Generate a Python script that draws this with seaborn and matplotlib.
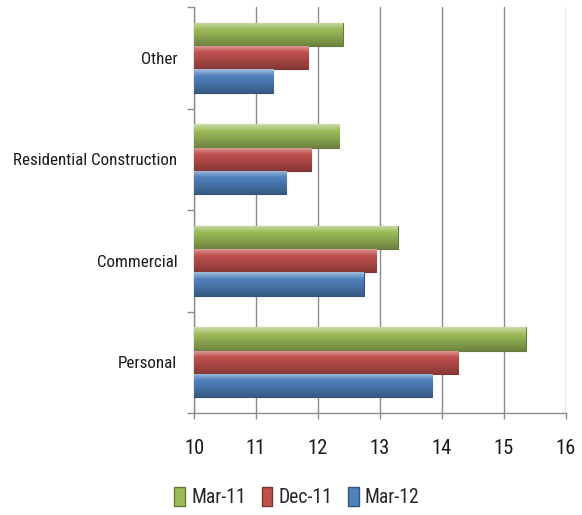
import numpy as np
import pandas as pd
import matplotlib
matplotlib.use("Agg")
import matplotlib.pyplot as plt
from matplotlib import font_manager as fm
from matplotlib.colors import to_rgb
from matplotlib.patches import Patch
import seaborn as sns

categories = ["Other", "Residential Construction", "Commercial", "Personal"]
series = ["Mar-11", "Dec-11", "Mar-12"]
mar11 = [12.40, 12.34, 13.29, 15.35]
dec11 = [11.84, 11.89, 12.94, 14.26]
mar12 = [11.28, 11.49, 12.74, 13.84]
x_ticks = [10, 11, 12, 13, 14, 15, 16]

colors = {"Mar-11": "#9BBB59", "Dec-11": "#C0504D", "Mar-12": "#4F81BD"}

df = pd.DataFrame({
    "category": categories * 3,
    "series": [s for s in series for _ in categories],
    "value": mar11 + dec11 + mar12,
})


def pick_font():
    """Prefer a narrow sans face; fall back to Lato."""
    tries = [("Liberation Sans Narrow", "normal"), ("Roboto Condensed", "normal"),
             ("Open Sans Condensed", "normal"), ("Noto Sans", "condensed"),
             ("Open Sans", "condensed"), ("Roboto", "condensed")]
    for fam, stretch in tries:
        try:
            path = fm.findfont(fm.FontProperties(family=fam, stretch=stretch),
                               fallback_to_default=False)
        except Exception:
            continue
        name = path.lower()
        if "narrow" in name or "condensed" in name:
            return fm.FontProperties(fname=path)
    return fm.FontProperties(family="Lato")


sns.set_theme(style="white")
fp = pick_font()
plt.rcParams["font.family"] = [fp.get_name(), "DejaVu Sans"]
base_font = fm.FontProperties(fname=fm.findfont(fp))

fig = plt.figure(figsize=(5.82, 5.15), dpi=100)

# size the labels so the longest category spans about 163 px
probe = fig.text(0, 0, "Residential Construction", fontproperties=base_font, fontsize=10)
fig.canvas.draw()
w10 = probe.get_window_extent().width
probe.remove()
fsize = min(14.0, 10 * 164 / w10)

ax = fig.add_axes([194 / 582, 1 - 413 / 515, (566 - 194) / 582, (413 - 7) / 515])

sns.barplot(data=df, y="category", x="value", hue="series", order=categories,
            hue_order=series, palette=colors, orient="h", width=0.69, gap=0,
            legend=False, ax=ax, saturation=1)

xmin, xmax = 10, 16


def shade(rgb, f):
    rgb = np.array(rgb)
    if f >= 0:
        return rgb + (1 - rgb) * f
    return rgb * (1 + f)


# glossy vertical gradient on each bar
for patch in list(ax.patches):
    x0, y0 = patch.get_x(), patch.get_y()
    w, h = patch.get_width(), patch.get_height()
    base = to_rgb(patch.get_facecolor())
    t = np.linspace(0, 1, 64)
    prof = np.interp(t, [0, 0.12, 0.3, 0.6, 1.0], [0.5, 0.28, 0.0, -0.12, -0.3])
    grad = np.array([shade(base, f) for f in prof])[:, None, :]
    grad = np.repeat(grad, 2, axis=1)
    im = ax.imshow(grad, extent=[max(x0, xmin), x0 + w, y0 + h, y0],
                   origin="upper", aspect="auto", zorder=3, interpolation="bilinear")
    im.set_clip_path(patch)
    patch.set_edgecolor(shade(base, -0.35))
    patch.set_linewidth(0.8)
    patch.set_zorder(3)
ax.set_xlim(xmin, xmax)
ax.set_ylim(3.5, -0.5)

ax.set_xticks(x_ticks)
ax.set_xticklabels([str(v) for v in x_ticks])
ax.set_yticks(range(len(categories)))
ax.set_yticklabels(categories)
ax.set_yticks(np.arange(-0.5, len(categories), 1), minor=True)
ax.set_xlabel("")
ax.set_ylabel("")

ax.grid(axis="x", color="#8c8c8c", linewidth=1.0, zorder=0)
ax.set_axisbelow(True)
for s in ["top", "right"]:
    ax.spines[s].set_visible(False)
for s in ["left", "bottom"]:
    ax.spines[s].set_color("#8c8c8c")
    ax.spines[s].set_linewidth(1.0)

ax.tick_params(axis="y", which="major", length=0, pad=12, labelsize=fsize, labelcolor="#1a1a1a")
ax.tick_params(axis="y", which="minor", left=True, length=5, width=1, color="#8c8c8c")
ax.tick_params(axis="x", which="major", bottom=True, length=4, width=1, color="#8c8c8c",
               pad=15, labelsize=fsize * 1.2, labelcolor="#1a1a1a")

handles = [Patch(facecolor=colors[s], edgecolor=shade(to_rgb(colors[s]), -0.35), label=s)
           for s in series]
fig.legend(handles=handles, loc="center", bbox_to_anchor=(0.51, 1 - 497 / 515), ncol=3,
           frameon=False, fontsize=fsize * 1.15, handlelength=0.55, handleheight=1.1,
           handletextpad=0.3, columnspacing=0.8)

fig.savefig("out.png", dpi=100)
